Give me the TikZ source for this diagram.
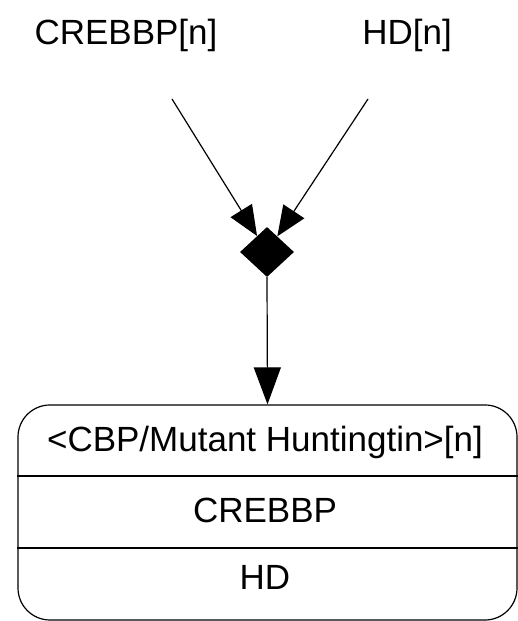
\documentclass[tikz,border=0pt]{standalone}
\usepackage{fontspec}
\setmainfont{Liberation Sans}
\usetikzlibrary{arrows.meta,shapes.geometric}
\begin{document}
\begin{tikzpicture}[x=1pt,y=1pt,
	lbl/.style={font=\fontsize{35}{40}\selectfont,inner sep=0pt,anchor=base},
	edge/.style={line width=1.2pt,-{Triangle[length=30pt,width=25pt]}},
	]
	\useasboundingbox(0,0)rectangle(518,621);
	\node[lbl](crebbpn)at(126,576){CREBBP[n]};
	\node[lbl](hdn)at(407,576){HD[n]};
	\coordinate(crebbpout)at(172,522);
	\coordinate(hdout)at(368,522);
	\node[diamond,fill,minimum width=54pt,minimum height=50pt,inner sep=0pt](assoc)at(267,369){};
	\draw[edge](crebbpout)--(assoc);
	\draw[edge](hdout)--(assoc);
	\node[draw,line width=1.2pt,rounded corners=32pt,minimum width=499pt,minimum height=215pt](cplx)at(267.5,108.5){};
	\draw[line width=1.2pt,-{Triangle[length=37pt,width=27pt]}](assoc.south)--(cplx.north);
	\draw[line width=1.2pt](cplx.west|-0,145)--(cplx.east|-0,145);
	\draw[line width=1.2pt](cplx.west|-0,73)--(cplx.east|-0,73);
	\node[lbl](cplxname)at(265,169){<CBP/Mutant Huntingtin>[n]};
	\node[lbl](crebbp)at(265,98){CREBBP};
	\node[lbl](hd)at(265,31){HD};
\end{tikzpicture}
\end{document}
